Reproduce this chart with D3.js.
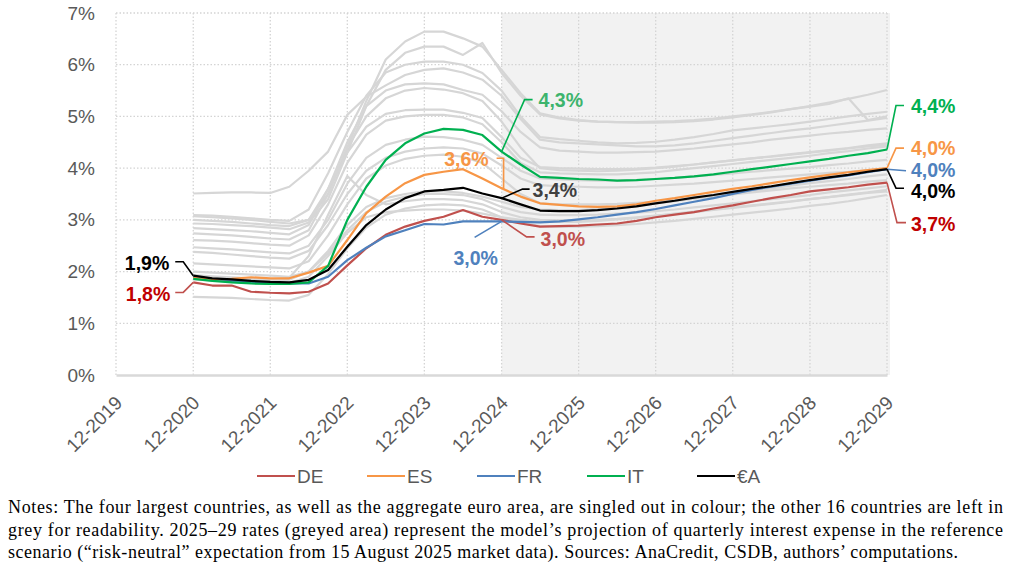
<!DOCTYPE html>
<html>
<head>
<meta charset="utf-8">
<script src="https://cdn.jsdelivr.net/npm/d3@7"></script>
<style>
  body { margin: 0; background: #fff; }
  svg { display: block; font-family: "Liberation Sans", Arial, sans-serif; }
</style>
</head>
<body>
<svg id="chart" width="1019" height="575"></svg>
<script>
// quarter-end dates of the series
const quarters = [
  "12-2020",
  "03-2021","06-2021","09-2021","12-2021",
  "03-2022","06-2022","09-2022","12-2022",
  "03-2023","06-2023","09-2023","12-2023",
  "03-2024","06-2024","09-2024","12-2024",
  "03-2025","06-2025","09-2025","12-2025",
  "03-2026","06-2026","09-2026","12-2026",
  "03-2027","06-2027","09-2027","12-2027",
  "03-2028","06-2028","09-2028","12-2028",
  "03-2029","06-2029","09-2029","12-2029"
];
const yearTicks = ["12-2019","12-2020","12-2021","12-2022","12-2023","12-2024","12-2025","12-2026","12-2027","12-2028","12-2029"];
const yTicks = [0, 1, 2, 3, 4, 5, 6, 7];
const projectionStart = "12-2024";

const de = [1.79,1.73,1.73,1.61,1.59,1.58,1.61,1.77,2.12,2.45,2.71,2.87,2.98,3.06,3.19,3.06,3.00,2.93,2.87,2.88,2.89,2.91,2.93,2.98,3.05,3.10,3.15,3.22,3.28,3.35,3.42,3.48,3.55,3.59,3.63,3.68,3.72];
const es = [1.88,1.85,1.86,1.89,1.87,1.87,1.98,2.11,2.61,3.13,3.45,3.71,3.87,3.93,3.98,3.80,3.61,3.45,3.32,3.29,3.26,3.25,3.26,3.30,3.37,3.42,3.48,3.54,3.60,3.65,3.71,3.77,3.82,3.87,3.92,3.96,4.00];
const fr = [1.89,1.84,1.82,1.79,1.77,1.77,1.77,1.90,2.22,2.46,2.68,2.80,2.92,2.91,2.97,2.97,2.97,2.96,2.95,2.97,3.01,3.05,3.10,3.15,3.21,3.28,3.35,3.42,3.50,3.58,3.64,3.70,3.76,3.81,3.86,3.92,3.98];
const it = [1.86,1.82,1.79,1.77,1.76,1.76,1.79,2.11,3.00,3.64,4.16,4.48,4.67,4.76,4.74,4.64,4.32,4.07,3.83,3.81,3.79,3.78,3.76,3.77,3.79,3.81,3.84,3.88,3.93,3.98,4.03,4.08,4.13,4.18,4.24,4.29,4.36];
const ea = [1.92,1.87,1.85,1.82,1.80,1.79,1.84,2.03,2.48,2.90,3.20,3.42,3.55,3.58,3.62,3.51,3.42,3.30,3.18,3.17,3.17,3.19,3.22,3.26,3.32,3.37,3.43,3.48,3.54,3.60,3.65,3.71,3.77,3.82,3.87,3.93,3.98];

// the other 16 countries, drawn in grey
const otherCountries = [
  [3.07,3.05,3.03,3.00,2.96,2.93,3.00,3.50,4.40,5.30,6.10,6.45,6.64,6.64,6.51,6.35,5.90,5.45,5.06,4.98,4.93,4.90,4.89,4.88,4.88,4.89,4.91,4.94,4.98,5.03,5.08,5.14,5.20,5.27,5.34,5.42,5.51],
  [2.93,2.92,2.90,2.88,2.85,2.82,2.95,3.40,4.30,5.20,5.90,6.23,6.35,6.35,6.19,6.42,5.84,5.40,5.04,4.96,4.92,4.90,4.89,4.89,4.90,4.91,4.93,4.96,5.00,5.04,5.09,5.14,5.19,5.24,5.35,4.93,5.00],
  [3.09,3.08,3.06,3.03,3.00,2.98,3.20,3.90,4.70,5.40,5.85,6.00,6.06,6.06,6.00,5.84,5.50,5.00,4.60,4.56,4.53,4.50,4.48,4.49,4.51,4.55,4.60,4.66,4.73,4.77,4.81,4.85,4.90,4.95,5.00,5.05,5.09],
  [3.51,3.52,3.53,3.53,3.52,3.64,3.95,4.32,5.03,5.38,5.60,5.80,5.90,5.93,5.85,5.71,5.40,4.95,4.55,4.50,4.48,4.46,4.44,4.42,4.42,4.44,4.48,4.53,4.58,4.63,4.68,4.73,4.77,4.82,4.87,4.92,4.97],
  [2.84,2.82,2.80,2.78,2.75,2.72,2.90,3.60,4.50,5.20,5.50,5.62,5.64,5.62,5.51,5.42,5.10,4.70,4.40,4.34,4.32,4.30,4.30,4.31,4.32,4.35,4.38,4.42,4.46,4.50,4.55,4.59,4.63,4.67,4.70,4.74,4.77],
  [2.74,2.72,2.70,2.67,2.64,2.62,2.80,3.50,4.40,5.00,5.35,5.50,5.55,5.52,5.45,5.30,4.90,4.40,4.00,3.96,3.95,3.94,3.95,3.97,4.00,4.03,4.07,4.11,4.15,4.19,4.23,4.27,4.31,4.35,4.39,4.44,4.48],
  [3.00,2.98,2.96,2.93,2.90,2.88,3.00,3.60,4.30,4.80,5.05,5.12,5.13,5.13,5.07,4.97,4.60,4.20,4.02,4.00,3.99,3.98,3.98,3.99,4.01,4.04,4.07,4.11,4.15,4.19,4.22,4.26,4.30,4.34,4.38,4.42,4.45],
  [2.61,2.60,2.58,2.55,2.52,2.50,2.70,3.30,4.10,4.65,4.92,5.00,5.03,5.03,4.98,4.85,4.50,4.10,3.92,3.90,3.89,3.88,3.88,3.90,3.92,3.96,4.00,4.04,4.08,4.12,4.16,4.20,4.24,4.29,4.33,4.38,4.42],
  [2.47,2.45,2.43,2.40,2.37,2.35,2.50,3.00,3.70,4.20,4.45,4.55,4.61,4.60,4.55,4.45,4.20,3.95,3.80,3.78,3.77,3.76,3.76,3.77,3.79,3.81,3.84,3.87,3.90,3.93,3.96,3.99,4.02,4.06,4.09,4.13,4.16],
  [2.38,2.36,2.33,2.30,2.27,2.25,2.40,2.90,3.50,3.95,4.20,4.32,4.38,4.40,4.38,4.28,4.05,3.80,3.67,3.65,3.64,3.63,3.63,3.64,3.66,3.68,3.70,3.73,3.76,3.79,3.82,3.85,3.88,3.91,3.93,3.96,3.98],
  [2.16,2.14,2.12,2.10,2.08,2.06,2.20,2.70,3.30,3.80,4.05,4.18,4.24,4.26,4.22,4.10,3.80,3.50,3.32,3.30,3.30,3.30,3.31,3.33,3.35,3.38,3.41,3.45,3.49,3.53,3.57,3.61,3.64,3.67,3.70,3.74,3.77],
  [2.00,1.98,1.96,1.94,1.92,1.90,2.00,2.35,2.80,3.15,3.35,3.45,3.50,3.50,3.48,3.40,3.25,3.15,3.10,3.09,3.09,3.10,3.12,3.14,3.17,3.20,3.24,3.28,3.32,3.36,3.40,3.44,3.48,3.53,3.57,3.61,3.65],
  [1.93,1.91,1.89,1.87,1.85,1.88,2.30,3.10,3.85,3.48,3.30,3.36,3.40,3.40,3.38,3.30,3.15,3.05,3.00,2.99,2.99,3.00,3.02,3.05,3.08,3.11,3.15,3.19,3.23,3.27,3.31,3.35,3.40,3.44,3.49,3.53,3.58],
  [1.51,1.50,1.49,1.47,1.45,1.44,1.55,1.95,2.45,2.85,3.10,3.22,3.28,3.30,3.28,3.20,3.05,2.95,2.88,2.87,2.87,2.88,2.90,2.92,2.95,2.98,3.02,3.06,3.10,3.14,3.18,3.22,3.27,3.31,3.36,3.42,3.48],
  [1.90,1.88,1.86,1.84,1.82,1.84,2.00,2.40,2.90,3.25,3.42,3.50,3.55,3.55,3.52,3.45,3.35,3.25,3.20,3.19,3.19,3.21,3.24,3.28,3.32,3.36,3.41,3.46,3.51,3.56,3.61,3.66,3.71,3.75,3.79,3.84,3.88],
  [1.85,1.83,1.81,1.79,1.77,1.78,1.90,2.30,2.75,3.05,3.15,3.18,3.20,3.20,3.18,3.12,3.05,3.00,2.97,2.96,2.96,2.98,3.01,3.04,3.08,3.12,3.16,3.20,3.24,3.28,3.32,3.36,3.40,3.44,3.48,3.52,3.55]
];

const countries = ["DE", "ES", "FR", "IT", "€A"];
const highlighted = { "DE": de, "ES": es, "FR": fr, "IT": it, "€A": ea };
const colors = { "DE": "#C0504D", "ES": "#F79646", "FR": "#4F81BD", "IT": "#00B050", "€A": "#000000" };

const notes = [
  "Notes: The four largest countries, as well as the aggregate euro area, are singled out in colour; the other 16 countries are left in",
  "grey for readability. 2025\u201329 rates (greyed area) represent the model\u2019s projection of quarterly interest expense in the reference",
  "scenario (\u201crisk-neutral\u201d expectation from 15 August 2025 market data). Sources: AnaCredit, CSDB, authors\u2019 computations."
];

const parseQ = d3.timeParse("%m-%Y");
const dates = quarters.map(parseQ);
const plot = { left: 116, right: 887, top: 13, bottom: 375 };

const svg = d3.select("#chart");

const x = d3.scaleTime()
  .domain([parseQ(yearTicks[0]), parseQ(yearTicks[yearTicks.length - 1])])
  .range([plot.left, plot.right]);
const y = d3.scaleLinear()
  .domain([0, 7])
  .range([plot.bottom, plot.top]);

// projection area
svg.append("rect")
    .attr("x", x(parseQ(projectionStart)))
    .attr("y", y(7))
    .attr("width", plot.right + 3 - x(parseQ(projectionStart)))
    .attr("height", y(0) - y(7))
    .attr("fill", "#f2f2f2");

// dotted grid
svg.append("g")
  .selectAll("line")
  .data(yTicks.slice(1))
  .join("line")
    .attr("x1", plot.left)
    .attr("x2", plot.right)
    .attr("y1", d => y(d))
    .attr("y2", d => y(d))
    .attr("stroke", "#d4d4d4")
    .attr("stroke-width", 1.3)
    .attr("stroke-dasharray", "1.5,2");
svg.append("g")
  .selectAll("line")
  .data(yearTicks.map(parseQ))
  .join("line")
    .attr("x1", d => x(d))
    .attr("x2", d => x(d))
    .attr("y1", y(7))
    .attr("y2", y(0))
    .attr("stroke", "#d4d4d4")
    .attr("stroke-width", 1.3)
    .attr("stroke-dasharray", "1.5,2");

// axes
const yAxis = svg.append("g")
    .attr("transform", `translate(${plot.left},0)`)
    .call(d3.axisLeft(y).tickValues(yTicks).tickFormat(d => d + "%").tickSize(0).tickPadding(21));
yAxis.select(".domain").remove();
yAxis.selectAll("text")
    .attr("font-size", 19)
    .attr("font-family", "Liberation Sans, Arial, sans-serif")
    .attr("fill", "#595959");

const xAxis = svg.append("g")
    .attr("transform", `translate(0,${plot.bottom})`)
    .call(d3.axisBottom(x).tickValues(yearTicks.map(parseQ)).tickFormat(d3.timeFormat("%m-%Y")).tickSize(0).tickSizeOuter(0));
xAxis.select(".domain")
    .attr("stroke", "#d9d9d9")
    .attr("stroke-width", 2.5);
xAxis.selectAll("text")
    .attr("x", 0)
    .attr("y", 0)
    .attr("dy", 0)
    .attr("text-anchor", "end")
    .attr("transform", "translate(7,29) rotate(-45)")
    .attr("font-size", 19)
    .attr("font-family", "Liberation Sans, Arial, sans-serif")
    .attr("fill", "#595959");

const line = d3.line()
  .x((d, i) => x(dates[i]))
  .y(d => y(d));

svg.append("g")
  .selectAll("path")
  .data(otherCountries)
  .join("path")
    .attr("d", line)
    .attr("fill", "none")
    .attr("stroke", "#d6d6d6")
    .attr("stroke-width", 2.2)
    .attr("stroke-linejoin", "round");

svg.append("g")
  .selectAll("path")
  .data(["DE", "FR", "ES", "IT", "€A"])
  .join("path")
    .attr("d", d => line(highlighted[d]))
    .attr("fill", "none")
    .attr("stroke", d => colors[d])
    .attr("stroke-width", 2.2)
    .attr("stroke-linejoin", "round");

// data labels with leader lines (offsets in px from the point)
const callouts = [
  { key: "€A", at: 0,  leg: [[-10, -14], [-18, -14]], tx: -24, ty: -13, anchor: "end", color: "#000000" },
  { key: "DE", at: 0,  leg: [[-10, 10], [-18, 10]], tx: -23, ty: 12, anchor: "end", color: "#C00000" },
  { key: "ES", at: 16, leg: [[2, 0], [2, -30], [-5, -30]], tx: -13, ty: -29, anchor: "end", color: "#F79646" },
  { key: "€A", at: 16, leg: [[21, -9], [28, -9]], tx: 31, ty: -8, anchor: "start", color: "#404040" },
  { key: "FR", at: 16, leg: [[-27, 16]], tx: -26, ty: 37, anchor: "middle", color: "#4F81BD" },
  { key: "DE", at: 16, leg: [[25, 17], [33, 17]], tx: 39, ty: 19, anchor: "start", color: "#C0504D" },
  { key: "IT", at: 16, leg: [[23, -52], [31, -52]], tx: 37, ty: -51, anchor: "start", color: "#3DB46D" },
  { key: "IT", at: 36, leg: [[9, -44], [17, -44]], tx: 24, ty: -43, anchor: "start", color: "#00B050" },
  { key: "ES", at: 36, leg: [[9, -20], [17, -20]], tx: 24, ty: -20, anchor: "start", color: "#F79646" },
  { key: "FR", at: 36, leg: [[19, 1.5]], tx: 24, ty: 1, anchor: "start", color: "#4F81BD" },
  { key: "€A", at: 36, leg: [[9, 19], [17, 19]], tx: 24, ty: 22, anchor: "start", color: "#000000" },
  { key: "DE", at: 36, leg: [[10, 40], [19, 40]], tx: 24, ty: 42, anchor: "start", color: "#C00000" }
];
const fmt = v => d3.format(".1f")(v).replace(".", ",") + "%";

const labels = svg.append("g")
  .selectAll("g")
  .data(callouts)
  .join("g")
    .attr("transform", d => `translate(${x(dates[d.at])},${y(highlighted[d.key][d.at])})`);
labels.append("path")
    .attr("d", d => d3.line()([[0, 0], ...d.leg]))
    .attr("fill", "none")
    .attr("stroke", d => colors[d.key])
    .attr("stroke-width", 1.6);
labels.append("text")
    .attr("x", d => d.tx)
    .attr("y", d => d.ty)
    .attr("dy", "0.35em")
    .attr("text-anchor", d => d.anchor)
    .attr("font-size", 19.5)
    .attr("font-weight", "bold")
    .attr("fill", d => d.color)
    .text(d => fmt(highlighted[d.key][d.at]));

// legend
const legend = svg.append("g")
    .attr("transform", "translate(257,476)")
  .selectAll("g")
  .data(countries)
  .join("g")
    .attr("transform", (d, i) => `translate(${i * 110},0)`);
legend.append("line")
    .attr("x1", 0)
    .attr("x2", 38)
    .attr("stroke", d => colors[d])
    .attr("stroke-width", 2.2);
legend.append("text")
    .attr("x", 40)
    .attr("dy", "0.35em")
    .attr("font-size", 19)
    .attr("fill", "#595959")
    .text(d => d);

// notes
svg.append("g")
  .selectAll("text")
  .data(notes)
  .join("text")
    .attr("x", 8)
    .attr("y", (d, i) => 513 + i * 22.5)
    .attr("font-family", "Liberation Serif, serif")
    .attr("font-size", 18)
    .attr("fill", "#000")
    .attr("textLength", (d, i) => i < 2 ? 995 : 950)
    .attr("lengthAdjust", "spacing")
    .text(d => d);
</script>
</body>
</html>
